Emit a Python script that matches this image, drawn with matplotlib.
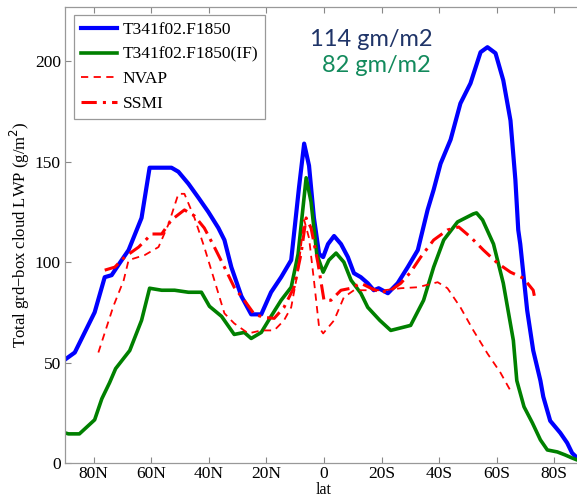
import numpy as np
import matplotlib
matplotlib.use("Agg")
import matplotlib.pyplot as plt

# latitude in degrees, north positive
blue_lat = [89.5, 86.6, 79.7, 76.2, 73.8, 71.0, 67.9, 63.4, 60.6, 57.5, 53.0, 50.6, 47.1, 43.6,
            40.2, 36.7, 34.6, 32.2, 28.7, 25.3, 21.8, 18.4, 14.9, 11.4, 8.7, 6.9, 5.2, 3.5, 1.7,
            0.3, -1.4, -3.5, -5.9, -8.3, -10.4, -12.8, -15.2, -17.3, -19.0, -22.2, -25.6, -29.1,
            -32.6, -34.3, -36.0, -38.1, -40.5, -44.0, -47.4, -50.9, -54.4, -56.8, -59.6, -62.3,
            -64.8, -66.5, -67.5, -68.2, -70.6, -72.7, -75.2, -76.2, -78.6, -82.1, -84.5, -86.2,
            -88.0, -90.0]
blue_val = [52, 55, 75, 92.5, 93.5, 99.5, 106, 122, 147, 147, 147, 145, 139, 132,
            125, 117, 111, 97.5, 83, 74, 74, 85, 92.5, 101, 137, 159, 148, 122, 104,
            102.5, 109, 113, 109, 102.5, 94.5, 92.5, 89.5, 86, 87, 84.5, 89.5, 97.5,
            106, 116, 126, 136, 149, 161, 179, 189, 204.5, 207, 204, 190.5,
            170.5, 141, 116, 109, 76, 56, 41, 33, 21, 15, 10, 5,
            2.5, 1.5]

green_lat = [90.0, 88.8, 85.0, 79.7, 77.2, 74.5, 72.4, 67.5, 63.4, 60.6, 56.4, 51.9, 47.1, 42.6,
             39.8, 35.6, 31.2, 27.7, 25.3, 21.8, 18.4, 14.9, 11.4, 9.0, 6.2, 4.5, 2.5, 0.3,
             -1.7, -4.2, -6.9, -9.4, -12.8, -15.2, -19.4, -23.2, -30.1, -34.6, -38.1, -41.6,
             -46.4, -51.9, -53.0, -55.1, -58.9, -62.3, -65.8, -67.0, -69.5, -72.4, -75.2,
             -77.6, -81.1, -83.8, -86.2, -88.0, -90.0]
green_val = [15, 14.5, 14.5, 21.5, 32, 40, 47, 56, 71, 87, 86, 86, 85, 85,
             78, 73, 64, 65, 62, 65, 73, 81, 87.5, 104, 142, 130, 104, 95,
             101, 104.5, 100, 91, 84.5, 77.5, 71, 66, 68.5, 81, 97.5, 111,
             120, 124, 124.5, 121, 109, 89.5, 61, 41, 28, 20, 11.5,
             6.5, 5.5, 4, 2.5, 1.5, 1]

nvap_lat = [78.4, 73.2, 69.6, 67.9, 62.3, 57.5, 54.0, 50.6, 48.5, 45.0, 41.6, 38.1, 34.6, 31.2,
            26.3, 21.8, 17.3, 13.9, 11.4, 9.0, 6.9, 5.2, 3.5, 1.7, 0.3, -3.5, -6.9, -10.4,
            -15.2, -20.8, -26.7, -32.6, -39.5, -42.9, -47.4, -51.9, -56.8, -61.3, -64.8]
nvap_val = [55, 78, 91, 101, 103.5, 107.5, 119, 134, 134, 122, 107.5, 91, 74.5, 69.5,
            64.5, 66, 66, 71, 77.5, 96, 121, 112, 91, 67.5, 64.5, 71, 82.5, 86,
            86, 86, 87, 87.5, 90, 87, 77.5, 66, 54.5, 45, 36]

ssmi_lat = [76.2, 72.7, 69.3, 64.4, 59.9, 56.4, 53.0, 48.5, 45.0, 41.6, 38.1, 34.6, 31.2, 27.7,
            24.2, 20.8, 17.3, 13.9, 10.4, 8.0, 6.2, 4.5, 2.1, 0.0, -2.4, -5.9, -9.4, -12.8,
            -16.3, -19.7, -23.2, -26.7, -30.1, -33.6, -38.1, -42.9, -46.8, -50.9, -55.4,
            -60.3, -64.8, -69.3, -72.7, -73.4]
ssmi_val = [96, 97.5, 102.5, 107.5, 114, 114, 121, 126, 123, 117, 107.5, 97.5, 87.5, 81,
            74, 72.5, 72, 77.5, 87.5, 104, 122, 117, 99.5, 81, 81, 86, 87, 89.5,
            87, 85, 86, 89.5, 95, 102.5, 111, 116, 117.5, 112.5, 106,
            99.5, 95, 92, 86, 81]

xticks = [80, 60, 40, 20, 0, -20, -40, -60, -80]
xticklabels = ['80N', '60N', '40N', '20N', '0', '20S', '40S', '60S', '80S']
yticks = [0, 50, 100, 150, 200]

serif = 'Liberation Serif'

fig = plt.figure(figsize=(5.77, 4.99), dpi=100)
ax = fig.add_axes([65/577, 36/499, 518/577, 456/499])

ax.plot(blue_lat, blue_val, color='#0000ff', lw=3.0, label='T341f02.F1850')
ax.plot(green_lat, green_val, color='#008000', lw=2.6, label='T341f02.F1850(IF)')
ax.plot(nvap_lat, nvap_val, color='#ff0000', lw=1.3, ls=(0, (4, 3)), label='NVAP')
ax.plot(ssmi_lat, ssmi_val, color='#ff0000', lw=2.2, ls=(0, (5, 2, 1, 2)), label='SSMI')

ax.set_xlim(90, -90)
ax.set_ylim(0, 227)
ax.set_xticks(xticks)
ax.set_xticklabels(xticklabels)
ax.set_yticks(yticks)
ax.tick_params(direction='in', top=True, right=True, length=4, width=0.8,
               color='#888888', labelsize=12.5, pad=3)
ax.tick_params(axis='x', pad=2)
for lab in ax.get_xticklabels() + ax.get_yticklabels():
    lab.set_family(serif)
for s in ax.spines.values():
    s.set_color('#999999')
    s.set_linewidth(0.9)

ax.set_xlabel('lat', family=serif, fontsize=11.5, labelpad=0)
ax.set_ylabel('Total grd\u2212box cloud LWP (g/m$^2$)', family=serif, fontsize=12, labelpad=2)

leg = ax.legend(loc='upper left', bbox_to_anchor=(0.017, 0.982), borderaxespad=0,
                fancybox=False, edgecolor='#999999', framealpha=1,
                prop={'family': serif, 'size': 12.5}, handlelength=2.1,
                labelspacing=0.48, handletextpad=0.3, borderpad=0.4)
leg.get_frame().set_linewidth(0.9)

ax.text(432/577, 1 - 40/499, '114 gm/m2', transform=fig.transFigure, ha='right', va='center',
        fontsize=17, color='#1f3468', family='Lato')
ax.text(431/577, 1 - 66/499, '82 gm/m2', transform=fig.transFigure, ha='right', va='center',
        fontsize=17, color='#128a5c', family='Lato')

fig.savefig('out.png', dpi=100)
